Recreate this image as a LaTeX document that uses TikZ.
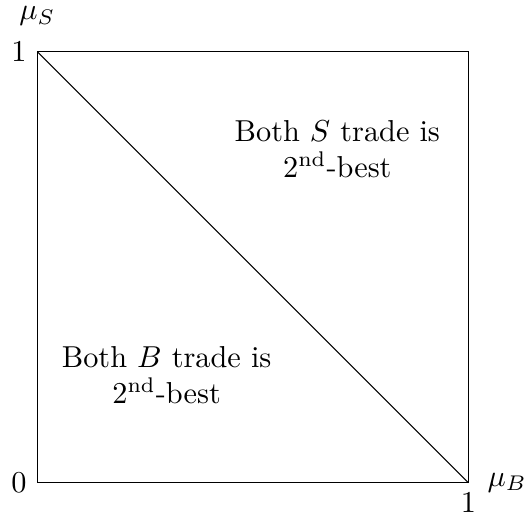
\documentclass[tikz,border=0pt]{standalone}
\usepackage{amsmath,amssymb}
\usepackage{tikz}
\usetikzlibrary{positioning}

\begin{document}
\begin{tikzpicture}[x=1cm,y=1cm,
    regionlabel/.style={align=center,inner sep=1pt}]
    \useasboundingbox (-0.433,-0.41) rectangle (5.727,5.6);
    \coordinate (origin) at (0,0);
    \coordinate (corner) at (5,5);
    \coordinate (xend) at (5,0);
    \coordinate (yend) at (0,5);
    \draw (origin) rectangle (corner);
    \draw (yend) -- (xend);
    \node[left] (zero) at (origin) {$0$};
    \node[left] (yone) at (yend) {$1$};
    \node[below] (xone) at (xend) {$1$};
    \node (muS) at (0,5.41) {$\mu_S$};
    \node (muB) at (5.45,0) {$\mu_B$};
    \node[regionlabel] (sregion) at (3.48,3.87) {Both $S$ trade is\\2\textsuperscript{nd}-best};
    \node[regionlabel] (bregion) at (1.50,1.25) {Both $B$ trade is\\2\textsuperscript{nd}-best};
  \end{tikzpicture}
\end{document}
